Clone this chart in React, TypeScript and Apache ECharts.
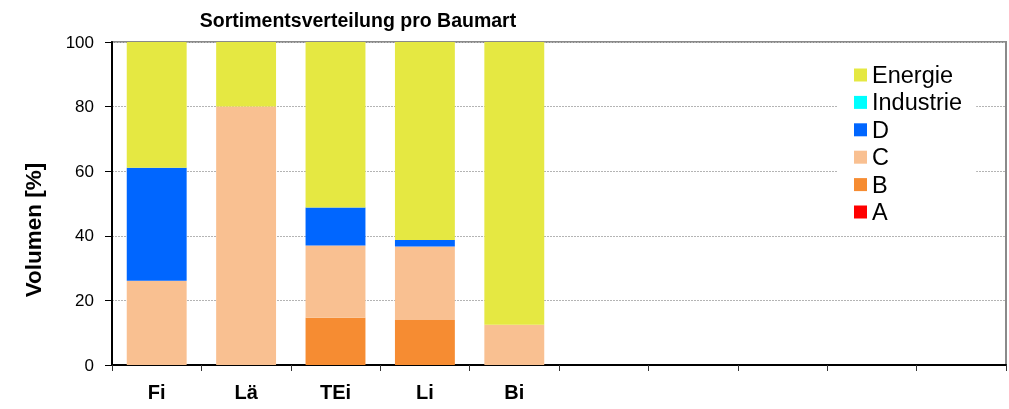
import React, { useEffect, useRef } from "react";
import * as echarts from "echarts";

const categories = ["Fi", "Lä", "TEi", "Li", "Bi", "", " ", "  ", "   ", "    "];
const seriesNames = ["A", "B", "C", "D", "Industrie", "Energie"];
const valuesA = [0, 0, 0, 0, 0];
const valuesB = [0, 0, 14.6, 13.9, 0];
const valuesC = [26.1, 80, 22.4, 22.8, 12.5];
const valuesD = [35.0, 0, 11.8, 2.0, 0];
const valuesIndustrie = [0, 0, 0, 0, 0];
const valuesEnergie = [38.9, 20, 51.2, 61.3, 87.5];
const seriesColors = ["#FF0000", "#F68C32", "#F9C091", "#0066FF", "#00FFFF", "#E5E842"];
const yTicks = [0, 20, 40, 60, 80, 100];

const FONT = "Liberation Sans, Arial, sans-serif";

export default function App() {
  const ref = useRef<HTMLDivElement>(null);
  useEffect(() => {
    if (!ref.current) return;
    const chart = echarts.init(ref.current, null, { renderer: "svg" });
    const allValues = [valuesA, valuesB, valuesC, valuesD, valuesIndustrie, valuesEnergie];
    const series = seriesNames.map((name, i) => ({
      name,
      type: "bar",
      stack: "total",
      barCategoryGap: "33%",
      itemStyle: { color: seriesColors[i] },
      data: allValues[i],
    }));
    chart.setOption({
      animation: false,
      textStyle: { fontFamily: FONT },
      title: {
        text: "Sortimentsverteilung pro Baumart",
        left: 353,
        textAlign: "center",
        top: 5,
        textStyle: { fontSize: 19.5, fontWeight: "bold", color: "#000", fontFamily: FONT },
      },
      graphic: [
        {
          type: "text",
          x: 33,
          y: 230,
          rotation: Math.PI / 2,
          style: {
            text: "Volumen [%]",
            fontSize: 22.5,
            fontWeight: "bold",
            fill: "#000",
            fontFamily: FONT,
            align: "center",
            verticalAlign: "middle",
          },
        },
      ],
      legend: {
        orient: "vertical",
        left: 838,
        top: 58,
        data: ["Energie", "Industrie", "D", "C", "B", "A"],
        icon: "rect",
        itemWidth: 13,
        itemHeight: 13,
        itemGap: 3.4,
        backgroundColor: "#fff",
        padding: [5, 14, 5, 16],
        textStyle: { fontSize: 23.5, color: "#000", fontFamily: FONT },
      },
      grid: {
        left: 112,
        right: 3,
        top: 42,
        bottom: 44,
        show: true,
        borderColor: "#8a8a8a",
        borderWidth: 2,
        backgroundColor: "#fff",
      },
      xAxis: {
        type: "category",
        data: categories,
        axisLine: { lineStyle: { color: "#000", width: 2 } },
        axisTick: { show: true, length: 6, lineStyle: { color: "#333", width: 1 } },
        axisLabel: {
          fontSize: 20,
          fontWeight: "bold",
          color: "#000",
          margin: 17,
          fontFamily: FONT,
        },
        splitLine: { show: false },
      },
      yAxis: {
        type: "value",
        min: yTicks[0],
        max: yTicks[yTicks.length - 1],
        interval: 20,
        axisLine: { show: true, lineStyle: { color: "#000", width: 2 } },
        axisTick: { show: true, length: 7, lineStyle: { color: "#000", width: 1 } },
        axisLabel: {
          fontSize: 17,
          color: "#000",
          margin: 18,
          fontFamily: FONT,
        },
        splitLine: { show: true, lineStyle: { color: "#b4b4b4", type: [2, 1], width: 1 } },
      },
      series,
    });
    return () => chart.dispose();
  }, []);
  return <div ref={ref} style={{ position: "fixed", left: 0, top: 0, width: 1009, height: 409 }} />;
}
